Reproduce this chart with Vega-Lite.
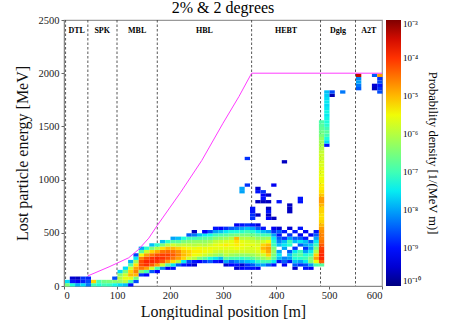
{
  "$schema": "https://vega.github.io/schema/vega-lite/v6.json",
  "width": 318,
  "height": 266,
  "padding": {"left": 14, "top": 0, "right": 0, "bottom": 0},
  "title": {"text": "2% & 2 degrees", "font": "Liberation Serif", "fontSize": 16, "fontWeight": "normal", "offset": -1},
  "config": {
    "font": "Liberation Serif",
    "view": {"stroke": "#999", "strokeWidth": 1.2},
    "axis": {"grid": false, "domainColor": "#888", "tickColor": "#666", "labelFont": "Liberation Serif", "labelFontSize": 10.5, "labelColor": "#222", "titleFont": "Liberation Serif", "titleFontSize": 16, "titleFontWeight": "normal", "titleColor": "#111", "tickSize": 3, "format": "d"},
    "legend": {"labelFont": "Liberation Serif", "titleFont": "Liberation Serif"}
  },
  "datasets": {
    "cells": [
      {"pos":0,"E":0,"logd":-6.5},{"pos":0,"E":31.25,"logd":-7.6},
      {"pos":10,"E":0,"logd":-7.3},{"pos":10,"E":31.25,"logd":-9.0},{"pos":10,"E":62.5,"logd":-9.5},
      {"pos":20,"E":0,"logd":-7.9},{"pos":20,"E":31.25,"logd":-9.3},{"pos":20,"E":62.5,"logd":-9.6},
      {"pos":30,"E":0,"logd":-7.6},{"pos":30,"E":31.25,"logd":-8.9},{"pos":30,"E":62.5,"logd":-8.8},
      {"pos":40,"E":0,"logd":-8.3},{"pos":40,"E":31.25,"logd":-8.6},{"pos":40,"E":62.5,"logd":-8.9},
      {"pos":50,"E":0,"logd":-7.0},{"pos":50,"E":31.25,"logd":-5.2},
      {"pos":60,"E":0,"logd":-7.3},{"pos":60,"E":31.25,"logd":-6.9},
      {"pos":70,"E":0,"logd":-7.0},{"pos":70,"E":31.25,"logd":-6.6},
      {"pos":80,"E":0,"logd":-7.1},{"pos":80,"E":31.25,"logd":-6.5},
      {"pos":90,"E":0,"logd":-7.4},{"pos":90,"E":31.25,"logd":-6.4},{"pos":90,"E":62.5,"logd":-8.6},
      {"pos":100,"E":0,"logd":-7.6},{"pos":100,"E":31.25,"logd":-6.3},{"pos":100,"E":62.5,"logd":-6.0},{"pos":100,"E":93.75,"logd":-6.4},{"pos":100,"E":125,"logd":-7.6},
      {"pos":110,"E":0,"logd":-7.8},{"pos":110,"E":31.25,"logd":-6.0},{"pos":110,"E":62.5,"logd":-5.6},{"pos":110,"E":93.75,"logd":-5.8},{"pos":110,"E":125,"logd":-6.5},{"pos":110,"E":156.25,"logd":-7.6},
      {"pos":120,"E":0,"logd":-9.0},{"pos":120,"E":31.25,"logd":-7.0},{"pos":120,"E":62.5,"logd":-5.6},{"pos":120,"E":93.75,"logd":-5.0},{"pos":120,"E":125,"logd":-5.2},{"pos":120,"E":156.25,"logd":-5.8},{"pos":120,"E":187.5,"logd":-6.8},{"pos":120,"E":218.75,"logd":-7.9},
      {"pos":130,"E":31.25,"logd":-8.6},{"pos":130,"E":62.5,"logd":-6.6},{"pos":130,"E":93.75,"logd":-5.0},{"pos":130,"E":125,"logd":-4.6},{"pos":130,"E":156.25,"logd":-4.8},{"pos":130,"E":187.5,"logd":-5.3},{"pos":130,"E":218.75,"logd":-6.2},{"pos":130,"E":250,"logd":-7.5},{"pos":130,"E":281.25,"logd":-8.6},
      {"pos":140,"E":93.75,"logd":-8.8},{"pos":140,"E":125,"logd":-6.5},{"pos":140,"E":156.25,"logd":-4.5},{"pos":140,"E":187.5,"logd":-4.2},{"pos":140,"E":218.75,"logd":-4.2},{"pos":140,"E":250,"logd":-4.6},{"pos":140,"E":281.25,"logd":-5.5},{"pos":140,"E":312.5,"logd":-6.8},{"pos":140,"E":343.75,"logd":-8.0},
      {"pos":150,"E":93.75,"logd":-9.2},{"pos":150,"E":125,"logd":-7.0},{"pos":150,"E":156.25,"logd":-4.8},{"pos":150,"E":187.5,"logd":-4.0},{"pos":150,"E":218.75,"logd":-3.9},{"pos":150,"E":250,"logd":-4.2},{"pos":150,"E":281.25,"logd":-4.8},{"pos":150,"E":312.5,"logd":-5.8},{"pos":150,"E":343.75,"logd":-7.2},
      {"pos":160,"E":125,"logd":-8.5},{"pos":160,"E":156.25,"logd":-5.8},{"pos":160,"E":187.5,"logd":-4.3},{"pos":160,"E":218.75,"logd":-3.9},{"pos":160,"E":250,"logd":-4.0},{"pos":160,"E":281.25,"logd":-4.5},{"pos":160,"E":312.5,"logd":-5.2},{"pos":160,"E":343.75,"logd":-6.5},{"pos":160,"E":375,"logd":-7.8},
      {"pos":170,"E":125,"logd":-9.2},{"pos":170,"E":156.25,"logd":-7.0},{"pos":170,"E":187.5,"logd":-4.8},{"pos":170,"E":218.75,"logd":-4.0},{"pos":170,"E":250,"logd":-3.9},{"pos":170,"E":281.25,"logd":-4.2},{"pos":170,"E":312.5,"logd":-4.9},{"pos":170,"E":343.75,"logd":-6.0},{"pos":170,"E":375,"logd":-7.2},
      {"pos":180,"E":156.25,"logd":-8.2},{"pos":180,"E":187.5,"logd":-5.8},{"pos":180,"E":218.75,"logd":-4.3},{"pos":180,"E":250,"logd":-4.0},{"pos":180,"E":281.25,"logd":-4.1},{"pos":180,"E":312.5,"logd":-4.5},{"pos":180,"E":343.75,"logd":-5.3},{"pos":180,"E":375,"logd":-6.5},{"pos":180,"E":406.25,"logd":-7.8},
      {"pos":190,"E":156.25,"logd":-9.3},{"pos":190,"E":187.5,"logd":-6.8},{"pos":190,"E":218.75,"logd":-4.8},{"pos":190,"E":250,"logd":-4.2},{"pos":190,"E":281.25,"logd":-4.1},{"pos":190,"E":312.5,"logd":-4.4},{"pos":190,"E":343.75,"logd":-5.0},{"pos":190,"E":375,"logd":-6.0},{"pos":190,"E":406.25,"logd":-7.2},
      {"pos":200,"E":156.25,"logd":-9.0},{"pos":200,"E":187.5,"logd":-7.5},{"pos":200,"E":218.75,"logd":-5.3},{"pos":200,"E":250,"logd":-4.5},{"pos":200,"E":281.25,"logd":-4.3},{"pos":200,"E":312.5,"logd":-4.5},{"pos":200,"E":343.75,"logd":-5.0},{"pos":200,"E":375,"logd":-5.8},{"pos":200,"E":406.25,"logd":-6.8},{"pos":200,"E":437.5,"logd":-8.0},
      {"pos":210,"E":187.5,"logd":-8.5},{"pos":210,"E":218.75,"logd":-6.0},{"pos":210,"E":250,"logd":-4.8},{"pos":210,"E":281.25,"logd":-4.6},{"pos":210,"E":312.5,"logd":-4.7},{"pos":210,"E":343.75,"logd":-5.2},{"pos":210,"E":375,"logd":-6.0},{"pos":210,"E":406.25,"logd":-6.8},{"pos":210,"E":437.5,"logd":-7.8},
      {"pos":220,"E":187.5,"logd":-9.0},{"pos":220,"E":218.75,"logd":-7.5},{"pos":220,"E":250,"logd":-5.2},{"pos":220,"E":281.25,"logd":-5.0},{"pos":220,"E":312.5,"logd":-5.1},{"pos":220,"E":343.75,"logd":-5.4},{"pos":220,"E":375,"logd":-5.9},{"pos":220,"E":406.25,"logd":-6.5},{"pos":220,"E":437.5,"logd":-7.3},
      {"pos":230,"E":187.5,"logd":-9.3},{"pos":230,"E":218.75,"logd":-8.6},{"pos":230,"E":250,"logd":-5.8},{"pos":230,"E":281.25,"logd":-5.2},{"pos":230,"E":312.5,"logd":-5.2},{"pos":230,"E":343.75,"logd":-5.5},{"pos":230,"E":375,"logd":-5.9},{"pos":230,"E":406.25,"logd":-6.4},{"pos":230,"E":437.5,"logd":-7.0},{"pos":230,"E":468.75,"logd":-8.5},
      {"pos":240,"E":187.5,"logd":-9.5},{"pos":240,"E":218.75,"logd":-9.0},{"pos":240,"E":250,"logd":-6.0},{"pos":240,"E":281.25,"logd":-5.5},{"pos":240,"E":312.5,"logd":-5.4},{"pos":240,"E":343.75,"logd":-5.6},{"pos":240,"E":375,"logd":-6.0},{"pos":240,"E":406.25,"logd":-6.3},{"pos":240,"E":437.5,"logd":-7.0},{"pos":240,"E":468.75,"logd":-8.3},{"pos":240,"E":500,"logd":-9.6},
      {"pos":250,"E":218.75,"logd":-9.2},{"pos":250,"E":250,"logd":-6.5},{"pos":250,"E":281.25,"logd":-5.6},{"pos":250,"E":312.5,"logd":-5.4},{"pos":250,"E":343.75,"logd":-5.5},{"pos":250,"E":375,"logd":-5.9},{"pos":250,"E":406.25,"logd":-6.3},{"pos":250,"E":437.5,"logd":-6.9},{"pos":250,"E":468.75,"logd":-7.8},
      {"pos":260,"E":218.75,"logd":-8.8},{"pos":260,"E":250,"logd":-6.8},{"pos":260,"E":281.25,"logd":-5.8},{"pos":260,"E":312.5,"logd":-5.5},{"pos":260,"E":343.75,"logd":-5.6},{"pos":260,"E":375,"logd":-6.0},{"pos":260,"E":406.25,"logd":-6.3},{"pos":260,"E":437.5,"logd":-6.8},{"pos":260,"E":468.75,"logd":-7.5},{"pos":260,"E":500,"logd":-9.2},
      {"pos":270,"E":218.75,"logd":-8.5},{"pos":270,"E":250,"logd":-7.3},{"pos":270,"E":281.25,"logd":-6.0},{"pos":270,"E":312.5,"logd":-5.6},{"pos":270,"E":343.75,"logd":-5.5},{"pos":270,"E":375,"logd":-5.8},{"pos":270,"E":406.25,"logd":-6.2},{"pos":270,"E":437.5,"logd":-6.7},{"pos":270,"E":468.75,"logd":-7.4},{"pos":270,"E":500,"logd":-8.6},
      {"pos":280,"E":218.75,"logd":-9.0},{"pos":280,"E":250,"logd":-7.5},{"pos":280,"E":281.25,"logd":-6.2},{"pos":280,"E":312.5,"logd":-5.8},{"pos":280,"E":343.75,"logd":-5.6},{"pos":280,"E":375,"logd":-5.6},{"pos":280,"E":406.25,"logd":-5.9},{"pos":280,"E":437.5,"logd":-6.4},{"pos":280,"E":468.75,"logd":-7.0},{"pos":280,"E":500,"logd":-8.0},{"pos":280,"E":531.25,"logd":-9.0},
      {"pos":290,"E":218.75,"logd":-9.3},{"pos":290,"E":250,"logd":-7.8},{"pos":290,"E":281.25,"logd":-6.4},{"pos":290,"E":312.5,"logd":-5.9},{"pos":290,"E":343.75,"logd":-5.6},{"pos":290,"E":375,"logd":-5.5},{"pos":290,"E":406.25,"logd":-5.8},{"pos":290,"E":437.5,"logd":-6.3},{"pos":290,"E":468.75,"logd":-6.9},{"pos":290,"E":500,"logd":-7.8},{"pos":290,"E":531.25,"logd":-9.2},
      {"pos":300,"E":187.5,"logd":-9.5},{"pos":300,"E":218.75,"logd":-8.0},{"pos":300,"E":250,"logd":-6.8},{"pos":300,"E":281.25,"logd":-6.0},{"pos":300,"E":312.5,"logd":-5.8},{"pos":300,"E":343.75,"logd":-5.6},{"pos":300,"E":375,"logd":-5.4},{"pos":300,"E":406.25,"logd":-5.7},{"pos":300,"E":437.5,"logd":-6.2},{"pos":300,"E":468.75,"logd":-6.8},{"pos":300,"E":500,"logd":-7.5},{"pos":300,"E":531.25,"logd":-8.8},
      {"pos":310,"E":187.5,"logd":-9.2},{"pos":310,"E":218.75,"logd":-8.5},{"pos":310,"E":250,"logd":-7.0},{"pos":310,"E":281.25,"logd":-6.2},{"pos":310,"E":312.5,"logd":-5.8},{"pos":310,"E":343.75,"logd":-5.6},{"pos":310,"E":375,"logd":-5.5},{"pos":310,"E":406.25,"logd":-5.6},{"pos":310,"E":437.5,"logd":-6.0},{"pos":310,"E":468.75,"logd":-6.6},{"pos":310,"E":500,"logd":-7.3},{"pos":310,"E":531.25,"logd":-8.5},
      {"pos":320,"E":156.25,"logd":-9.5},{"pos":320,"E":187.5,"logd":-9.0},{"pos":320,"E":218.75,"logd":-8.2},{"pos":320,"E":250,"logd":-7.0},{"pos":320,"E":281.25,"logd":-6.3},{"pos":320,"E":312.5,"logd":-5.8},{"pos":320,"E":343.75,"logd":-5.5},{"pos":320,"E":375,"logd":-5.4},{"pos":320,"E":406.25,"logd":-5.3},{"pos":320,"E":437.5,"logd":-5.0},{"pos":320,"E":468.75,"logd":-6.5},{"pos":320,"E":500,"logd":-7.3},{"pos":320,"E":531.25,"logd":-8.3},{"pos":320,"E":562.5,"logd":-9.3},
      {"pos":330,"E":156.25,"logd":-9.2},{"pos":330,"E":187.5,"logd":-9.5},{"pos":330,"E":218.75,"logd":-8.0},{"pos":330,"E":250,"logd":-7.2},{"pos":330,"E":281.25,"logd":-6.3},{"pos":330,"E":312.5,"logd":-5.8},{"pos":330,"E":343.75,"logd":-5.6},{"pos":330,"E":375,"logd":-5.5},{"pos":330,"E":406.25,"logd":-5.6},{"pos":330,"E":437.5,"logd":-6.0},{"pos":330,"E":468.75,"logd":-6.5},{"pos":330,"E":500,"logd":-7.2},{"pos":330,"E":531.25,"logd":-8.0},{"pos":330,"E":562.5,"logd":-9.0},
      {"pos":340,"E":156.25,"logd":-9.0},{"pos":340,"E":187.5,"logd":-8.8},{"pos":340,"E":218.75,"logd":-7.8},{"pos":340,"E":250,"logd":-7.0},{"pos":340,"E":281.25,"logd":-6.3},{"pos":340,"E":312.5,"logd":-5.8},{"pos":340,"E":343.75,"logd":-5.7},{"pos":340,"E":375,"logd":-5.6},{"pos":340,"E":406.25,"logd":-5.7},{"pos":340,"E":437.5,"logd":-6.0},{"pos":340,"E":468.75,"logd":-6.5},{"pos":340,"E":500,"logd":-7.0},{"pos":340,"E":531.25,"logd":-7.8},{"pos":340,"E":562.5,"logd":-8.8},
      {"pos":350,"E":156.25,"logd":-9.0},{"pos":350,"E":187.5,"logd":-8.5},{"pos":350,"E":218.75,"logd":-7.6},{"pos":350,"E":250,"logd":-6.8},{"pos":350,"E":281.25,"logd":-6.2},{"pos":350,"E":312.5,"logd":-5.8},{"pos":350,"E":343.75,"logd":-5.7},{"pos":350,"E":375,"logd":-5.6},{"pos":350,"E":406.25,"logd":-5.8},{"pos":350,"E":437.5,"logd":-6.1},{"pos":350,"E":468.75,"logd":-6.6},{"pos":350,"E":500,"logd":-7.2},{"pos":350,"E":531.25,"logd":-8.0},{"pos":350,"E":562.5,"logd":-9.0},
      {"pos":360,"E":156.25,"logd":-9.3},{"pos":360,"E":187.5,"logd":-8.0},{"pos":360,"E":218.75,"logd":-7.2},{"pos":360,"E":250,"logd":-6.5},{"pos":360,"E":281.25,"logd":-6.0},{"pos":360,"E":312.5,"logd":-5.7},{"pos":360,"E":343.75,"logd":-5.6},{"pos":360,"E":375,"logd":-5.7},{"pos":360,"E":406.25,"logd":-5.9},{"pos":360,"E":437.5,"logd":-6.3},{"pos":360,"E":468.75,"logd":-6.8},{"pos":360,"E":500,"logd":-7.5},{"pos":360,"E":531.25,"logd":-8.5},{"pos":360,"E":562.5,"logd":-9.4},
      {"pos":370,"E":187.5,"logd":-8.0},{"pos":370,"E":218.75,"logd":-7.0},{"pos":370,"E":250,"logd":-6.3},{"pos":370,"E":281.25,"logd":-5.8},{"pos":370,"E":312.5,"logd":-5.3},{"pos":370,"E":343.75,"logd":-5.0},{"pos":370,"E":375,"logd":-5.2},{"pos":370,"E":406.25,"logd":-5.8},{"pos":370,"E":437.5,"logd":-6.3},{"pos":370,"E":468.75,"logd":-7.0},{"pos":370,"E":500,"logd":-7.8},{"pos":370,"E":531.25,"logd":-9.0},
      {"pos":380,"E":187.5,"logd":-8.5},{"pos":380,"E":218.75,"logd":-7.0},{"pos":380,"E":250,"logd":-6.0},{"pos":380,"E":281.25,"logd":-5.2},{"pos":380,"E":312.5,"logd":-4.9},{"pos":380,"E":343.75,"logd":-4.8},{"pos":380,"E":375,"logd":-5.0},{"pos":380,"E":406.25,"logd":-5.5},{"pos":380,"E":437.5,"logd":-6.2},{"pos":380,"E":468.75,"logd":-7.0},{"pos":380,"E":500,"logd":-8.0},
      {"pos":390,"E":187.5,"logd":-9.0},{"pos":390,"E":218.75,"logd":-7.5},{"pos":390,"E":250,"logd":-6.8},{"pos":390,"E":281.25,"logd":-6.5},{"pos":390,"E":312.5,"logd":-6.3},{"pos":390,"E":343.75,"logd":-6.5},{"pos":390,"E":375,"logd":-7.0},{"pos":390,"E":406.25,"logd":-7.2},{"pos":390,"E":437.5,"logd":-7.5},{"pos":390,"E":468.75,"logd":-8.0},{"pos":390,"E":500,"logd":-8.8},{"pos":390,"E":531.25,"logd":-9.3},
      {"pos":400,"E":218.75,"logd":-9.0},{"pos":400,"E":250,"logd":-7.8},{"pos":400,"E":281.25,"logd":-7.5},{"pos":400,"E":312.5,"logd":-8.0},{"pos":400,"E":375,"logd":-7.8},{"pos":400,"E":406.25,"logd":-8.2},{"pos":400,"E":437.5,"logd":-8.5},{"pos":400,"E":468.75,"logd":-9.0},{"pos":400,"E":500,"logd":-8.5},{"pos":400,"E":531.25,"logd":-9.5},
      {"pos":410,"E":187.5,"logd":-9.3},{"pos":410,"E":218.75,"logd":-8.5},{"pos":410,"E":250,"logd":-8.2},{"pos":410,"E":343.75,"logd":-8.0},{"pos":410,"E":375,"logd":-7.5},{"pos":410,"E":406.25,"logd":-7.8},{"pos":410,"E":437.5,"logd":-8.8},{"pos":410,"E":500,"logd":-9.0},
      {"pos":420,"E":218.75,"logd":-9.0},{"pos":420,"E":250,"logd":-8.0},{"pos":420,"E":281.25,"logd":-7.8},{"pos":420,"E":312.5,"logd":-8.5},{"pos":420,"E":375,"logd":-7.2},{"pos":420,"E":406.25,"logd":-7.0},{"pos":420,"E":437.5,"logd":-8.0},{"pos":420,"E":468.75,"logd":-8.8},{"pos":420,"E":531.25,"logd":-9.5},
      {"pos":430,"E":156.25,"logd":-9.5},{"pos":430,"E":187.5,"logd":-8.5},{"pos":430,"E":218.75,"logd":-7.8},{"pos":430,"E":250,"logd":-7.3},{"pos":430,"E":281.25,"logd":-7.0},{"pos":430,"E":312.5,"logd":-7.5},{"pos":430,"E":343.75,"logd":-8.8},{"pos":430,"E":406.25,"logd":-7.8},{"pos":430,"E":437.5,"logd":-8.5},{"pos":430,"E":500,"logd":-9.0},
      {"pos":440,"E":187.5,"logd":-8.8},{"pos":440,"E":218.75,"logd":-8.0},{"pos":440,"E":250,"logd":-7.2},{"pos":440,"E":281.25,"logd":-6.8},{"pos":440,"E":312.5,"logd":-7.0},{"pos":440,"E":375,"logd":-8.5},{"pos":440,"E":406.25,"logd":-7.5},{"pos":440,"E":437.5,"logd":-8.5},{"pos":440,"E":468.75,"logd":-9.3},{"pos":440,"E":531.25,"logd":-9.0},
      {"pos":450,"E":156.25,"logd":-9.0},{"pos":450,"E":187.5,"logd":-8.6},{"pos":450,"E":218.75,"logd":-7.5},{"pos":450,"E":250,"logd":-7.0},{"pos":450,"E":281.25,"logd":-7.3},{"pos":450,"E":312.5,"logd":-8.0},{"pos":450,"E":343.75,"logd":-8.8},{"pos":450,"E":375,"logd":-8.0},{"pos":450,"E":406.25,"logd":-7.8},{"pos":450,"E":437.5,"logd":-9.0},{"pos":450,"E":500,"logd":-9.3},
      {"pos":460,"E":156.25,"logd":-9.3},{"pos":460,"E":187.5,"logd":-8.0},{"pos":460,"E":218.75,"logd":-6.5},{"pos":460,"E":250,"logd":-6.5},{"pos":460,"E":281.25,"logd":-7.0},{"pos":460,"E":312.5,"logd":-7.5},{"pos":460,"E":343.75,"logd":-8.0},{"pos":460,"E":375,"logd":-7.8},{"pos":460,"E":406.25,"logd":-8.5},{"pos":460,"E":468.75,"logd":-9.3},
      {"pos":470,"E":187.5,"logd":-7.0},{"pos":470,"E":218.75,"logd":-5.5},{"pos":470,"E":250,"logd":-4.8},{"pos":470,"E":281.25,"logd":-5.2},{"pos":470,"E":312.5,"logd":-6.0},{"pos":470,"E":343.75,"logd":-6.5},{"pos":470,"E":375,"logd":-7.0},{"pos":470,"E":406.25,"logd":-7.5},{"pos":470,"E":437.5,"logd":-8.0},{"pos":470,"E":468.75,"logd":-8.5},{"pos":470,"E":500,"logd":-9.0},
      {"pos":480,"E":187.5,"logd":-6.8},{"pos":480,"E":218.75,"logd":-4.3},{"pos":480,"E":250,"logd":-3.9},{"pos":480,"E":281.25,"logd":-3.9},{"pos":480,"E":312.5,"logd":-4.0},{"pos":480,"E":343.75,"logd":-4.1},{"pos":480,"E":375,"logd":-4.3},{"pos":480,"E":406.25,"logd":-4.5},{"pos":480,"E":437.5,"logd":-4.6},{"pos":480,"E":468.75,"logd":-4.6},{"pos":480,"E":500,"logd":-4.7},{"pos":480,"E":531.25,"logd":-4.8},{"pos":480,"E":562.5,"logd":-5.0},{"pos":480,"E":593.75,"logd":-5.2},{"pos":480,"E":625,"logd":-5.3},{"pos":480,"E":656.25,"logd":-5.3},{"pos":480,"E":687.5,"logd":-5.2},{"pos":480,"E":718.75,"logd":-5.2},{"pos":480,"E":750,"logd":-5.0},{"pos":480,"E":781.25,"logd":-4.8},{"pos":480,"E":812.5,"logd":-4.8},{"pos":480,"E":843.75,"logd":-5.1},{"pos":480,"E":875,"logd":-5.3},{"pos":480,"E":906.25,"logd":-5.4},{"pos":480,"E":937.5,"logd":-5.4},{"pos":480,"E":968.75,"logd":-5.5},{"pos":480,"E":1000,"logd":-5.5},{"pos":480,"E":1031.25,"logd":-5.6},{"pos":480,"E":1062.5,"logd":-5.6},{"pos":480,"E":1093.75,"logd":-5.6},{"pos":480,"E":1125,"logd":-5.7},{"pos":480,"E":1156.25,"logd":-5.7},{"pos":480,"E":1187.5,"logd":-5.8},{"pos":480,"E":1218.75,"logd":-5.8},{"pos":480,"E":1250,"logd":-5.9},{"pos":480,"E":1281.25,"logd":-6.0},{"pos":480,"E":1312.5,"logd":-6.1},{"pos":480,"E":1343.75,"logd":-6.2},{"pos":480,"E":1375,"logd":-6.3},{"pos":480,"E":1406.25,"logd":-6.5},{"pos":480,"E":1437.5,"logd":-6.6},{"pos":480,"E":1468.75,"logd":-6.7},{"pos":480,"E":1500,"logd":-6.8},{"pos":480,"E":1531.25,"logd":-6.9},
      {"pos":490,"E":1312.5,"logd":-9.0},{"pos":490,"E":1343.75,"logd":-7.6},{"pos":490,"E":1375,"logd":-7.3},{"pos":490,"E":1406.25,"logd":-7.0},{"pos":490,"E":1437.5,"logd":-6.8},{"pos":490,"E":1468.75,"logd":-7.0},{"pos":490,"E":1500,"logd":-7.2},{"pos":490,"E":1531.25,"logd":-7.3},{"pos":490,"E":1562.5,"logd":-7.4},{"pos":490,"E":1593.75,"logd":-7.5},{"pos":490,"E":1625,"logd":-7.4},{"pos":490,"E":1656.25,"logd":-7.5},{"pos":490,"E":1687.5,"logd":-7.6},{"pos":490,"E":1718.75,"logd":-7.5},{"pos":490,"E":1750,"logd":-7.6},{"pos":490,"E":1781.25,"logd":-7.7},{"pos":490,"E":1812.5,"logd":-7.8},
      {"pos":500,"E":1781.25,"logd":-9.7},{"pos":500,"E":1812.5,"logd":-8.6},
      {"pos":520,"E":1812.5,"logd":-8.3},
      {"pos":550,"E":1843.75,"logd":-8.5},{"pos":550,"E":1875,"logd":-8.3},{"pos":550,"E":1906.25,"logd":-8.0},{"pos":550,"E":1937.5,"logd":-8.2},{"pos":550,"E":1968.75,"logd":-3.4},
      {"pos":580,"E":1843.75,"logd":-9.6},{"pos":580,"E":1875,"logd":-9.5},{"pos":580,"E":1968.75,"logd":-8.5},
      {"pos":590,"E":1812.5,"logd":-8.6},{"pos":590,"E":1843.75,"logd":-8.8},{"pos":590,"E":1875,"logd":-9.0},{"pos":590,"E":1906.25,"logd":-8.6},{"pos":590,"E":1937.5,"logd":-8.8},{"pos":590,"E":1968.75,"logd":-4.8},
      {"pos":340,"E":1187.5,"logd":-8.8},{"pos":410,"E":1156.25,"logd":-9.6},
      {"pos":330,"E":875,"logd":-8.0},{"pos":330,"E":906.25,"logd":-8.0},{"pos":340,"E":937.5,"logd":-8.8},
      {"pos":360,"E":875,"logd":-9.0},{"pos":360,"E":906.25,"logd":-9.5},{"pos":370,"E":843.75,"logd":-9.2},{"pos":370,"E":875,"logd":-8.8},{"pos":380,"E":843.75,"logd":-9.6},{"pos":390,"E":937.5,"logd":-9.3},
      {"pos":360,"E":781.25,"logd":-9.6},{"pos":370,"E":781.25,"logd":-9.6},{"pos":380,"E":781.25,"logd":-9.6},{"pos":370,"E":812.5,"logd":-9.0},{"pos":400,"E":781.25,"logd":-9.0},
      {"pos":440,"E":781.25,"logd":-9.0},{"pos":440,"E":812.5,"logd":-9.0},
      {"pos":420,"E":687.5,"logd":-9.6},{"pos":420,"E":718.75,"logd":-9.6},{"pos":420,"E":750,"logd":-9.6},
      {"pos":350,"E":625,"logd":-8.8},{"pos":350,"E":656.25,"logd":-8.8},{"pos":350,"E":687.5,"logd":-9.0},{"pos":350,"E":718.75,"logd":-9.0},
      {"pos":360,"E":656.25,"logd":-9.6},{"pos":380,"E":625,"logd":-9.2},{"pos":380,"E":656.25,"logd":-9.6},{"pos":380,"E":687.5,"logd":-9.0},{"pos":380,"E":718.75,"logd":-9.6},{"pos":390,"E":625,"logd":-9.6},
      {"pos":260,"E":500,"logd":-9.2}
    ],
    "bounds": [{"pos":3},{"pos":45},{"pos":100},{"pos":176},{"pos":354},{"pos":484},{"pos":550}],
    "sections": [
      {"name":"DTL","pos":24},{"name":"SPK","pos":72},{"name":"MBL","pos":138},{"name":"HBL","pos":265},{"name":"HEBT","pos":419},{"name":"Dglg","pos":517},{"name":"A2T","pos":575}
    ],
    "energy": [
      {"pos":45,"E":95},{"pos":85,"E":180},{"pos":122,"E":265},{"pos":140,"E":340},{"pos":160,"E":450},{"pos":176,"E":569},{"pos":220,"E":880},{"pos":260,"E":1180},{"pos":300,"E":1530},{"pos":330,"E":1780},{"pos":354,"E":2000},{"pos":600,"E":2000}
    ]
  },
  "layer": [
    {
      "data": {"name": "bounds"},
      "mark": {"type": "rule", "color": "#444", "strokeDash": [2.5, 2], "strokeWidth": 0.9},
      "encoding": {"x": {"field": "pos", "type": "quantitative"}}
    },
    {
      "data": {"name": "cells"},
      "mark": {"type": "rect"},
      "encoding": {
        "x": {"field": "pos", "type": "quantitative", "bin": {"binned": true, "step": 10},
              "scale": {"domain": [0, 600], "nice": false},
              "axis": {"title": "Longitudinal position [m]", "values": [0,100,200,300,400,500,600], "titlePadding": 3, "labelPadding": 1}},
        "y": {"field": "E", "type": "quantitative", "bin": {"binned": true, "step": 31.25},
              "scale": {"domain": [0, 2500], "nice": false},
              "axis": {"title": "Lost particle energy [MeV]", "values": [0,500,1000,1500,2000,2500], "titlePadding": 8}},
        "color": {"field": "logd", "type": "quantitative",
          "scale": {"type": "linear", "domain": [-10, -9.23, -9.125, -7.55, -7.375, -6.5, -5.52, -5.38, -3.77, -3],
                    "range": ["#000080", "#0000ff", "#0000ff", "#00e5f7", "#14ffe2", "#7aff7a", "#eeff08", "#ffec00", "#ff1300", "#800000"],
                    "interpolate": "rgb"},
          "legend": {"title": "Probability density [1/(MeV m)]", "titleOrient": "right", "titleAnchor": "middle", "titleFontSize": 12.5, "titleFontWeight": "normal",
                     "gradientLength": 266, "gradientThickness": 15, "offset": 4, "labelFontSize": 9, "values": [-10,-9,-8,-7,-6,-5,-4,-3],
                     "labelExpr": "datum.value == -10 ? '10⁻¹⁰' : datum.value == -9 ? '10⁻⁹' : datum.value == -8 ? '10⁻⁸' : datum.value == -7 ? '10⁻⁷' : datum.value == -6 ? '10⁻⁶' : datum.value == -5 ? '10⁻⁵' : datum.value == -4 ? '10⁻⁴' : '10⁻³'"}}
      }
    },
    {
      "data": {"name": "energy"},
      "mark": {"type": "line", "color": "#ff3cff", "strokeWidth": 1},
      "encoding": {"x": {"field": "pos", "type": "quantitative"}, "y": {"field": "E", "type": "quantitative"}}
    },
    {
      "data": {"name": "sections"},
      "mark": {"type": "text", "font": "Liberation Serif", "fontWeight": "bold", "fontSize": 8, "baseline": "middle"},
      "encoding": {"x": {"field": "pos", "type": "quantitative"}, "y": {"datum": 2400, "type": "quantitative"}, "text": {"field": "name"}}
    }
  ]
}
